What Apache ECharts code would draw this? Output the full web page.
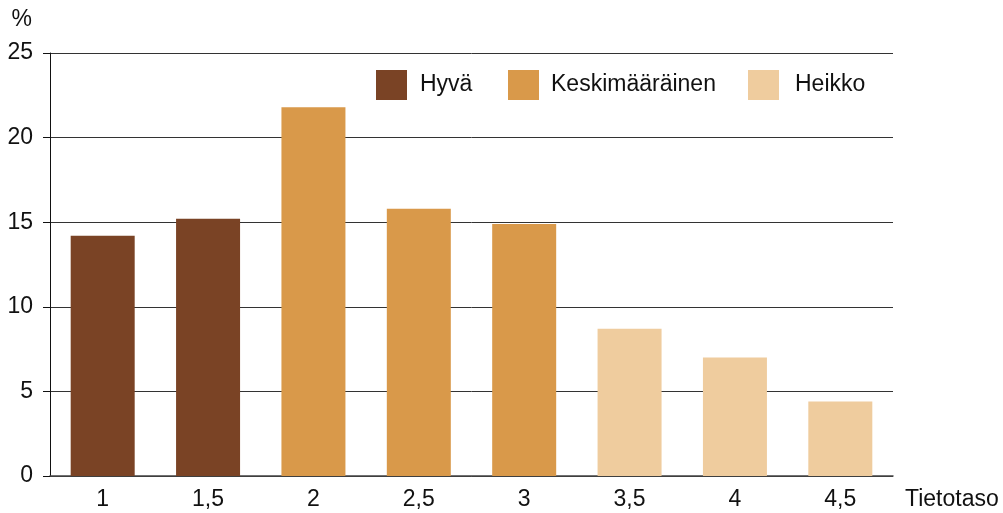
<!DOCTYPE html>
<html><head><meta charset="utf-8">
<script src="https://cdn.jsdelivr.net/npm/echarts@6/dist/echarts.min.js"></script>
<style>html,body{margin:0;padding:0;background:#fff}#c{width:1003px;height:513px}</style>
</head><body><div id="c"></div>
<script>
const categories = ['1', '1,5', '2', '2,5', '3', '3,5', '4', '4,5'];
const hyva = [14.2, 15.2, '-', '-', '-', '-', '-', '-'];
const keskimaarainen = ['-', '-', 21.8, 15.8, 14.9, '-', '-', '-'];
const heikko = ['-', '-', '-', '-', '-', 8.7, 7.0, 4.4];
const yTicks = [0, 5, 10, 15, 20, 25];
const seriesNames = ['Hyvä', 'Keskimääräinen', 'Heikko'];
const colors = ['#7A4325', '#D9994A', '#EFCC9E'];

const font = 'Liberation Sans, Arial, sans-serif';
const fs = 23;
const chart = echarts.init(document.getElementById('c'));
function legendAt(left, name, gap) {
  return {
    left: left, top: 70, padding: 0, itemWidth: 31, itemHeight: 30, icon: 'rect',
    textStyle: { fontSize: fs, color: '#111', fontFamily: font, padding: [0, 0, 0, gap] },
    selectedMode: false, data: [name]
  };
}
chart.setOption({
  animation: false,
  color: colors,
  grid: { left: 50, right: 110, top: 53, bottom: 37, containLabel: false },
  legend: [
    legendAt(376, seriesNames[0], 8),
    legendAt(508, seriesNames[1], 7),
    legendAt(748, seriesNames[2], 11)
  ],
  xAxis: {
    type: 'category', data: categories,
    name: 'Tietotaso', nameLocation: 'end', nameGap: 12,
    nameTextStyle: { fontSize: fs, color: '#111', fontFamily: font, verticalAlign: 'top', padding: [12, 0, 0, 0] },
    axisLine: { lineStyle: { color: '#444', width: 1.5 } },
    axisTick: { show: false },
    axisLabel: { fontSize: fs, color: '#111', fontFamily: font, margin: 12 }
  },
  yAxis: {
    type: 'value', min: yTicks[0], max: yTicks[yTicks.length - 1], interval: 5,
    name: '%', nameLocation: 'end', nameGap: 22,
    nameTextStyle: { fontSize: fs, color: '#111', fontFamily: font, align: 'right', padding: [0, 18, 0, 0] },
    axisLine: { show: true, lineStyle: { color: '#111', width: 1 } },
    axisTick: { show: true, length: 7, lineStyle: { color: '#111' } },
    axisLabel: { fontSize: fs, color: '#111', fontFamily: font, margin: 17 },
    splitLine: { lineStyle: { color: '#333', width: 1 } }
  },
  series: [
    { name: seriesNames[0], type: 'bar', stack: 's', data: hyva, barWidth: 64 },
    { name: seriesNames[1], type: 'bar', stack: 's', data: keskimaarainen, barWidth: 64 },
    { name: seriesNames[2], type: 'bar', stack: 's', data: heikko, barWidth: 64 }
  ]
});
</script></body></html>
